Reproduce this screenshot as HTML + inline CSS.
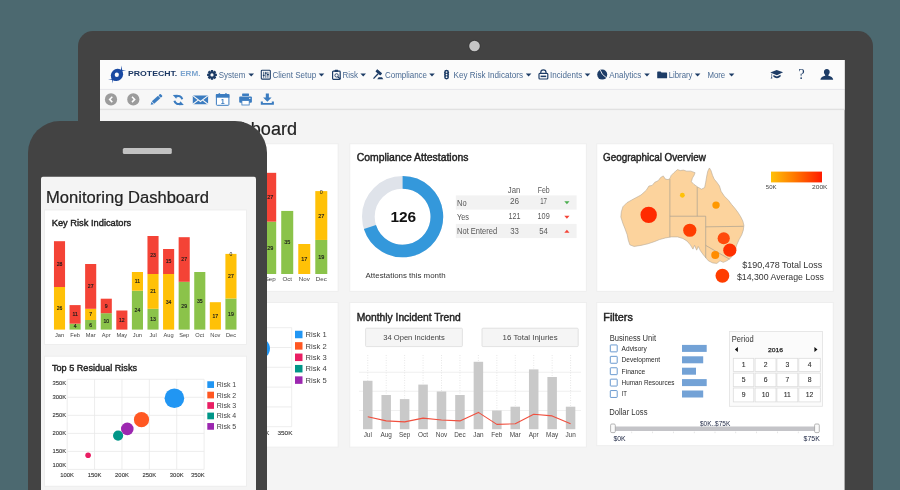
<!DOCTYPE html>
<html><head><meta charset="utf-8"><title>Monitoring Dashboard</title>
<style>html,body{margin:0;padding:0;width:900px;height:490px;overflow:hidden;background:#4c6970}svg{display:block;font-family:"Liberation Sans",sans-serif;will-change:transform}</style></head><body>
<svg width="900" height="490" viewBox="0 0 900 490">
<defs>
<clipPath id="tscr"><rect x="100" y="60" width="744.6" height="430"/></clipPath>
<clipPath id="pscr"><rect x="41" y="176.5" width="215" height="320" rx="2.5"/></clipPath>
<linearGradient id="heat" x1="0" x2="1" y1="0" y2="0"><stop offset="0" stop-color="#ffc107"/><stop offset="0.45" stop-color="#ff7a00"/><stop offset="1" stop-color="#ff1a00"/></linearGradient>
<path id="caret" d="M0 0h5.6l-2.8 3z" fill="#1d3c66"/>
</defs>
<rect x="0.00" y="0.00" width="900.00" height="490.00" fill="#4c6970" />
<rect x="78" y="31" width="795" height="500" rx="15" fill="#434343"/>
<circle cx="474.5" cy="46" r="6.2" fill="#3a3a3a"/><circle cx="474.5" cy="46" r="5.3" fill="#c4c4c4"/>
<g clip-path="url(#tscr)">
<rect x="100.00" y="60.00" width="745.00" height="430.00" fill="#f4f4f4" />
<rect x="100.00" y="60.00" width="745.00" height="29.00" fill="#fbfbfb" />
<rect x="100.00" y="88.90" width="745.00" height="1.00" fill="#e5e5e9" />
<rect x="100.00" y="89.90" width="745.00" height="19.00" fill="#f7f7f7" />
<rect x="100.00" y="108.70" width="745.00" height="1.40" fill="#e1e1e1" />
<g id="logo" fill="#1949a2">
<ellipse cx="117" cy="74.9" rx="6.6" ry="5.7" transform="rotate(-45 117 74.9)"/>
<path d="M120.7 71.8L121.6 65.6L122.4 71.8zM118.5 69.8L126.1 70.3L118.5 71.4zM111.600 77.400L112.400 83.500L113.300 77.400zM115.200 78.900L108 79.500L115.200 80.400z"/>
<ellipse cx="116.8" cy="74.8" rx="2.1" ry="2.25" fill="#fbfbfb"/>
</g>
<text x="128" y="75.7" font-size="6.6" fill="#1b3763" textLength="49.3" lengthAdjust="spacingAndGlyphs" font-weight="bold">PROTECHT.</text>
<text x="180.2" y="75.7" font-size="6.6" fill="#7ba4cf" textLength="20.3" lengthAdjust="spacingAndGlyphs" font-weight="bold">ERM.</text>
<text x="218.8" y="77.8" font-size="9" fill="#4b6b93" textLength="26.5" lengthAdjust="spacingAndGlyphs">System</text>
<use href="#caret" x="248.4" y="73.4"/>
<text x="272.5" y="77.8" font-size="9" fill="#4b6b93" textLength="43.7" lengthAdjust="spacingAndGlyphs">Client Setup</text>
<use href="#caret" x="318.7" y="73.4"/>
<text x="342.5" y="77.8" font-size="9" fill="#4b6b93" textLength="15.5" lengthAdjust="spacingAndGlyphs">Risk</text>
<use href="#caret" x="360.4" y="73.4"/>
<text x="385" y="77.8" font-size="9" fill="#4b6b93" textLength="42" lengthAdjust="spacingAndGlyphs">Compliance</text>
<use href="#caret" x="429.2" y="73.4"/>
<text x="453.6" y="77.8" font-size="9" fill="#4b6b93" textLength="69.4" lengthAdjust="spacingAndGlyphs">Key Risk Indicators</text>
<use href="#caret" x="525.8" y="73.4"/>
<text x="550" y="77.8" font-size="9" fill="#4b6b93" textLength="32.2" lengthAdjust="spacingAndGlyphs">Incidents</text>
<use href="#caret" x="584.7" y="73.4"/>
<text x="609.2" y="77.8" font-size="9" fill="#4b6b93" textLength="32.1" lengthAdjust="spacingAndGlyphs">Analytics</text>
<use href="#caret" x="644.2" y="73.4"/>
<text x="668.7" y="77.8" font-size="9" fill="#4b6b93" textLength="23.8" lengthAdjust="spacingAndGlyphs">Library</text>
<use href="#caret" x="694.8" y="73.4"/>
<text x="707.4" y="77.8" font-size="9" fill="#4b6b93" textLength="17.8" lengthAdjust="spacingAndGlyphs">More</text>
<use href="#caret" x="728.8" y="73.4"/>
<g fill="#1d3c66" transform="translate(212,74.9)">
<circle r="3.7"/>
<rect x="-1.15" y="-4.9" width="2.3" height="2.4" transform="rotate(0)"/>
<rect x="-1.15" y="-4.9" width="2.3" height="2.4" transform="rotate(45)"/>
<rect x="-1.15" y="-4.9" width="2.3" height="2.4" transform="rotate(90)"/>
<rect x="-1.15" y="-4.9" width="2.3" height="2.4" transform="rotate(135)"/>
<rect x="-1.15" y="-4.9" width="2.3" height="2.4" transform="rotate(180)"/>
<rect x="-1.15" y="-4.9" width="2.3" height="2.4" transform="rotate(225)"/>
<rect x="-1.15" y="-4.9" width="2.3" height="2.4" transform="rotate(270)"/>
<rect x="-1.15" y="-4.9" width="2.3" height="2.4" transform="rotate(315)"/>
<circle r="1.6" fill="#fbfbfb"/></g>
<g transform="translate(260.8,69.8)"><rect x="0.5" y="0.5" width="9" height="8.8" rx="0.8" fill="none" stroke="#1d3c66" stroke-width="1.1"/><path d="M2.9 2v6M5 2v6M7.1 2v6" stroke="#1d3c66" stroke-width="0.8"/><path d="M2 5.6h1.8M4.1 3.4h1.8M6.2 4.9h1.8" stroke="#1d3c66" stroke-width="1.3"/></g>
<g transform="translate(332,69.8)"><rect x="0.6" y="1.3" width="7.6" height="8.2" rx="0.8" fill="none" stroke="#1d3c66" stroke-width="1.2"/><rect x="2.6" y="0" width="3.6" height="2.2" rx="0.6" fill="#1d3c66"/><circle cx="4.6" cy="5.6" r="1.7" fill="none" stroke="#1d3c66" stroke-width="0.9"/><path d="M5.8 6.9l2.6 2.4" stroke="#1d3c66" stroke-width="1.2"/></g>
<g fill="#1d3c66"><rect x="375.6" y="70.9" width="6.4" height="2.9" rx="0.5" transform="rotate(40 378.8 72.35)"/><path d="M373.0 78.2L377.6 73.3l1.0 0.95L374.0 79.1z"/><path d="M378.6 77.2h3.4l1.3 2.1h-6z"/></g>
<g fill="#1d3c66"><circle cx="446.55" cy="72.2" r="2.45"/><circle cx="446.55" cy="74.6" r="2.45"/><circle cx="446.55" cy="77.0" r="2.45"/><circle cx="446.55" cy="72.0" r="0.85" fill="#fbfbfb"/><circle cx="446.55" cy="74.6" r="0.85" fill="#fbfbfb"/><circle cx="446.55" cy="77.2" r="0.85" fill="#fbfbfb"/></g>
<g transform="translate(538.4,69.6)"><path d="M2.4 4V2.6a2.5 2.3 0 0 1 5.2 0V4" fill="none" stroke="#1d3c66" stroke-width="1.2"/><rect x="0.6" y="3.8" width="8.8" height="5.6" rx="0.9" fill="#fbfbfb" stroke="#1d3c66" stroke-width="1.2"/><rect x="2.2" y="6" width="5.6" height="1.5" fill="#1d3c66"/></g>
<g transform="translate(602.2,74.6)"><circle r="5" fill="#1d3c66"/><path d="M0.2 -0.3L-1.9 -4.5M0.2 -0.3L4 2.9" stroke="#fbfbfb" stroke-width="0.9"/></g>
<path d="M657.2 72.3q0-0.7 0.7-0.7h2.7l0.9 1h4.9q0.7 0 0.7 0.7v4.4q0 0.6-0.7 0.6h-8.5q-0.7 0-0.7-0.6z" fill="#1d3c66"/>
<g fill="#1d3c66"><path d="M770.3 72.6l6.4-2.7 6.4 2.4-6.2 2.9z"/><path d="M773.4 74.9l3.5 1.5 3.7-1.7v1.9q-1.8 1.8-3.7 1.7-2-0.1-3.5-1.5z"/><path d="M771.5 73.6v3.4l-0.9 1.6 1.7-0.2-0.2-1.5v-3z"/></g>
<text x="798.2" y="79.3" font-size="14.5" fill="#1d3c66" font-family="Liberation Serif">?</text>
<path d="M826.8 69.1c2 0 2.9 1.4 2.9 3 0 1.200-0.5 2.200-1.300 2.800v0.900c2.300 0.700 4.700 1.500 4.800 3.900h-12.800c0.100-2.400 2.500-3.200 4.800-3.900v-0.900c-0.800-0.600-1.300-1.600-1.300-2.800 0-1.600 0.900-3 2.900-3z" fill="#1d3c66"/>
<g transform="translate(111,99.4)"><circle r="6.1" fill="#9c9c9c"/><path d="M1.3 -2.7L-1.4 0l2.7 2.700" fill="none" stroke="#fff" stroke-width="1.5"/></g>
<g transform="translate(133.3,99.4)"><circle r="6.1" fill="#9c9c9c"/><path d="M-1.3 -2.7L1.400 0l-2.700 2.700" fill="none" stroke="#fff" stroke-width="1.5"/></g>
<g transform="translate(156.2,99.7) rotate(-42)" fill="#3b7cc0"><path d="M-7.400 0l2.600-1.700v3.400z"/><rect x="-4.300" y="-1.700" width="8.300" height="3.400"/><rect x="4.600" y="-1.700" width="2.500" height="3.400" rx="0.800"/></g>
<g transform="translate(178.3,100) scale(-1,1)"><g fill="none" stroke="#3b7cc0" stroke-width="2.1"><path d="M-3.9 -0.8A4 4 0 0 1 2.3 -3.3"/><path d="M3.9 0.8A4 4 0 0 1 -2.3 3.3"/></g><g fill="#3b7cc0"><path d="M0.6 -5.3l4.9 0.2-3.4 3.8z"/><path d="M-0.6 5.3l-4.9-0.2 3.400-3.800z"/></g></g>
<g transform="translate(192.800,95.400)"><rect width="15.300" height="8.900" rx="0.800" fill="#3b7cc0"/><path d="M0.300 0.500l7.350 5.600 7.350-5.600M0.300 8.600l5.400-4.100M15 8.600l-5.400-4.100" fill="none" stroke="#f7f7f7" stroke-width="1.150"/></g>
<g transform="translate(215.900,93.200)"><rect x="0.500" y="1.400" width="12.500" height="10.700" rx="0.800" fill="#fff" stroke="#3b7cc0" stroke-width="1"/><rect x="0" y="0.900" width="13.500" height="3.600" fill="#3b7cc0"/><rect x="2.700" y="0" width="1.500" height="2.400" fill="#3b7cc0"/><rect x="9.300" y="0" width="1.500" height="2.400" fill="#3b7cc0"/></g>
<text x="222.7" y="104.0" font-size="7" fill="#3b7cc0" text-anchor="middle" font-weight="bold">1</text>
<g transform="translate(239.200,93.600)" fill="#3b7cc0"><rect x="2.900" y="0" width="6.900" height="2.300" rx="0.400"/><rect x="0" y="3" width="12.700" height="6.200" rx="1"/><rect x="2.700" y="7" width="7.300" height="4.400" fill="#fff" stroke="#3b7cc0" stroke-width="0.800"/><rect x="10" y="4.300" width="1.200" height="1.100" fill="#f7f7f7"/></g>
<g transform="translate(260.800,93.600)" fill="#3b7cc0"><path d="M5 0h3.100v4h2.700l-4.250 4.100L2.300 4H5z"/><path d="M0 7.800h2.100v1.700h8.900V7.800h2.100v3.300H0z"/></g>
<text x="119.3" y="134.55" font-size="17.6" fill="#222" textLength="177.7" lengthAdjust="spacingAndGlyphs" stroke="#222" stroke-width="0.2">Monitoring Dashboard</text>
<rect x="103.00" y="143.80" width="235.10" height="147.50" fill="#fff" stroke="#ececec" stroke-width="0.8"/>
<rect x="349.80" y="143.80" width="236.50" height="147.50" fill="#fff" stroke="#ececec" stroke-width="0.8"/>
<rect x="596.80" y="143.80" width="236.40" height="147.50" fill="#fff" stroke="#ececec" stroke-width="0.8"/>
<rect x="103.00" y="302.40" width="235.10" height="144.70" fill="#fff" stroke="#ececec" stroke-width="0.8"/>
<rect x="349.80" y="302.40" width="236.50" height="144.70" fill="#fff" stroke="#ececec" stroke-width="0.8"/>
<rect x="596.80" y="302.40" width="236.40" height="143.30" fill="#fff" stroke="#ececec" stroke-width="0.8"/>
<rect x="127.96" y="227.35" width="12.00" height="46.65" fill="#ffc107" />
<text x="133.96" y="252.66" font-size="5.5" fill="#1a1a1a" text-anchor="middle" stroke="#1a1a1a" stroke-width="0.15">26</text>
<rect x="127.96" y="177.20" width="12.00" height="50.15" fill="#f44336" />
<text x="133.96" y="204.26" font-size="5.5" fill="#1a1a1a" text-anchor="middle" stroke="#1a1a1a" stroke-width="0.15">28</text>
<text x="133.96" y="281.0" font-size="6.2" fill="#444" text-anchor="middle">Jan</text>
<rect x="144.99" y="267.54" width="12.00" height="6.46" fill="#8bc34a" />
<text x="150.99" y="272.75" font-size="5.5" fill="#1a1a1a" text-anchor="middle" stroke="#1a1a1a" stroke-width="0.15">4</text>
<rect x="144.99" y="247.17" width="12.00" height="20.37" fill="#f44336" />
<text x="150.99" y="259.34" font-size="5.5" fill="#1a1a1a" text-anchor="middle" stroke="#1a1a1a" stroke-width="0.15">11</text>
<text x="150.99" y="281.0" font-size="6.2" fill="#444" text-anchor="middle">Feb</text>
<rect x="162.02" y="263.49" width="12.00" height="10.51" fill="#8bc34a" />
<text x="168.02" y="270.72" font-size="5.5" fill="#1a1a1a" text-anchor="middle" stroke="#1a1a1a" stroke-width="0.15">6</text>
<rect x="162.02" y="251.22" width="12.00" height="12.26" fill="#ffc107" />
<text x="168.02" y="259.34" font-size="5.5" fill="#1a1a1a" text-anchor="middle" stroke="#1a1a1a" stroke-width="0.15">7</text>
<rect x="162.02" y="202.17" width="12.00" height="49.06" fill="#f44336" />
<text x="168.02" y="228.68" font-size="5.5" fill="#1a1a1a" text-anchor="middle" stroke="#1a1a1a" stroke-width="0.15">27</text>
<text x="168.02" y="281.0" font-size="6.2" fill="#444" text-anchor="middle">Mar</text>
<rect x="179.05" y="256.04" width="12.00" height="17.96" fill="#8bc34a" />
<text x="185.05" y="267.00" font-size="5.5" fill="#1a1a1a" text-anchor="middle" stroke="#1a1a1a" stroke-width="0.15">10</text>
<rect x="179.05" y="240.16" width="12.00" height="15.88" fill="#f44336" />
<text x="185.05" y="250.08" font-size="5.5" fill="#1a1a1a" text-anchor="middle" stroke="#1a1a1a" stroke-width="0.15">9</text>
<text x="185.05" y="281.0" font-size="6.2" fill="#444" text-anchor="middle">Apr</text>
<rect x="196.08" y="253.09" width="12.00" height="20.91" fill="#f44336" />
<text x="202.08" y="265.52" font-size="5.5" fill="#1a1a1a" text-anchor="middle" stroke="#1a1a1a" stroke-width="0.15">12</text>
<text x="202.08" y="281.0" font-size="6.2" fill="#444" text-anchor="middle">May</text>
<rect x="213.11" y="231.40" width="12.00" height="42.60" fill="#8bc34a" />
<text x="219.11" y="254.68" font-size="5.5" fill="#1a1a1a" text-anchor="middle" stroke="#1a1a1a" stroke-width="0.15">24</text>
<rect x="213.11" y="210.93" width="12.00" height="20.48" fill="#ffc107" />
<text x="219.11" y="223.15" font-size="5.5" fill="#1a1a1a" text-anchor="middle" stroke="#1a1a1a" stroke-width="0.15">11</text>
<text x="219.11" y="281.0" font-size="6.2" fill="#444" text-anchor="middle">Jun</text>
<rect x="230.14" y="251.22" width="12.00" height="22.78" fill="#8bc34a" />
<text x="236.14" y="264.59" font-size="5.5" fill="#1a1a1a" text-anchor="middle" stroke="#1a1a1a" stroke-width="0.15">13</text>
<rect x="230.14" y="213.12" width="12.00" height="38.11" fill="#ffc107" />
<text x="236.14" y="234.15" font-size="5.5" fill="#1a1a1a" text-anchor="middle" stroke="#1a1a1a" stroke-width="0.15">21</text>
<rect x="230.14" y="171.51" width="12.00" height="41.61" fill="#f44336" />
<text x="236.14" y="194.29" font-size="5.5" fill="#1a1a1a" text-anchor="middle" stroke="#1a1a1a" stroke-width="0.15">23</text>
<text x="236.14" y="281.0" font-size="6.2" fill="#444" text-anchor="middle">Jul</text>
<rect x="247.17" y="213.12" width="12.00" height="60.88" fill="#ffc107" />
<text x="253.17" y="245.54" font-size="5.5" fill="#1a1a1a" text-anchor="middle" stroke="#1a1a1a" stroke-width="0.15">34</text>
<rect x="247.17" y="185.74" width="12.00" height="27.38" fill="#f44336" />
<text x="253.17" y="201.41" font-size="5.5" fill="#1a1a1a" text-anchor="middle" stroke="#1a1a1a" stroke-width="0.15">15</text>
<text x="253.17" y="281.0" font-size="6.2" fill="#444" text-anchor="middle">Aug</text>
<rect x="264.20" y="221.66" width="12.00" height="52.34" fill="#8bc34a" />
<text x="270.20" y="249.81" font-size="5.5" fill="#1a1a1a" text-anchor="middle" stroke="#1a1a1a" stroke-width="0.15">29</text>
<rect x="264.20" y="172.82" width="12.00" height="48.84" fill="#f44336" />
<text x="270.20" y="199.22" font-size="5.5" fill="#1a1a1a" text-anchor="middle" stroke="#1a1a1a" stroke-width="0.15">27</text>
<text x="270.20" y="281.0" font-size="6.2" fill="#444" text-anchor="middle">Sep</text>
<rect x="281.23" y="210.93" width="12.00" height="63.07" fill="#8bc34a" />
<text x="287.23" y="244.44" font-size="5.5" fill="#1a1a1a" text-anchor="middle" stroke="#1a1a1a" stroke-width="0.15">35</text>
<text x="287.23" y="281.0" font-size="6.2" fill="#444" text-anchor="middle">Oct</text>
<rect x="298.26" y="244.00" width="12.00" height="30.00" fill="#ffc107" />
<text x="304.26" y="260.98" font-size="5.5" fill="#1a1a1a" text-anchor="middle" stroke="#1a1a1a" stroke-width="0.15">17</text>
<text x="304.26" y="281.0" font-size="6.2" fill="#444" text-anchor="middle">Nov</text>
<rect x="315.29" y="239.95" width="12.00" height="34.05" fill="#8bc34a" />
<text x="321.29" y="258.95" font-size="5.5" fill="#1a1a1a" text-anchor="middle" stroke="#1a1a1a" stroke-width="0.15">19</text>
<rect x="315.29" y="191.11" width="12.00" height="48.84" fill="#ffc107" />
<text x="321.29" y="217.51" font-size="5.5" fill="#1a1a1a" text-anchor="middle" stroke="#1a1a1a" stroke-width="0.15">27</text>
<text x="321.29" y="193.51" font-size="5.5" fill="#222" text-anchor="middle">0</text>
<text x="321.29" y="281.0" font-size="6.2" fill="#444" text-anchor="middle">Dec</text>
<text x="110" y="161.2" font-size="9.6" fill="#222" textLength="79.6" lengthAdjust="spacingAndGlyphs" stroke="#222" stroke-width="0.42">Key Risk Indicators</text>
<path d="M142.20 327.70V426.70M142.20 327.70H291.70" stroke="#e9e9e9" stroke-width="0.8" fill="none"/>
<path d="M172.10 327.70V426.70M142.20 347.50H291.70" stroke="#e9e9e9" stroke-width="0.8" fill="none"/>
<path d="M202.00 327.70V426.70M142.20 367.30H291.70" stroke="#e9e9e9" stroke-width="0.8" fill="none"/>
<path d="M231.90 327.70V426.70M142.20 387.10H291.70" stroke="#e9e9e9" stroke-width="0.8" fill="none"/>
<path d="M261.80 327.70V426.70M142.20 406.90H291.70" stroke="#e9e9e9" stroke-width="0.8" fill="none"/>
<path d="M291.70 327.70V426.70M142.20 426.70H291.70" stroke="#e9e9e9" stroke-width="0.8" fill="none"/>
<text x="125.20" y="334.11" font-size="6.2" fill="#333" textLength="15.0" lengthAdjust="spacingAndGlyphs" stroke="#333" stroke-width="0.1">350K</text>
<text x="125.20" y="349.73" font-size="6.2" fill="#333" textLength="15.0" lengthAdjust="spacingAndGlyphs" stroke="#333" stroke-width="0.1">300K</text>
<text x="125.20" y="369.53" font-size="6.2" fill="#333" textLength="15.0" lengthAdjust="spacingAndGlyphs" stroke="#333" stroke-width="0.1">250K</text>
<text x="125.20" y="389.33" font-size="6.2" fill="#333" textLength="15.0" lengthAdjust="spacingAndGlyphs" stroke="#333" stroke-width="0.1">200K</text>
<text x="125.20" y="409.13" font-size="6.2" fill="#333" textLength="15.0" lengthAdjust="spacingAndGlyphs" stroke="#333" stroke-width="0.1">150K</text>
<text x="125.20" y="424.53" font-size="6.2" fill="#333" textLength="15.0" lengthAdjust="spacingAndGlyphs" stroke="#333" stroke-width="0.1">100K</text>
<text x="134.70" y="434.80" font-size="6.2" fill="#333" textLength="15.0" lengthAdjust="spacingAndGlyphs" stroke="#333" stroke-width="0.1">100K</text>
<text x="164.60" y="434.80" font-size="6.2" fill="#333" textLength="15.0" lengthAdjust="spacingAndGlyphs" stroke="#333" stroke-width="0.1">150K</text>
<text x="194.50" y="434.80" font-size="6.2" fill="#333" textLength="15.0" lengthAdjust="spacingAndGlyphs" stroke="#333" stroke-width="0.1">200K</text>
<text x="224.40" y="434.80" font-size="6.2" fill="#333" textLength="15.0" lengthAdjust="spacingAndGlyphs" stroke="#333" stroke-width="0.1">250K</text>
<text x="254.30" y="434.80" font-size="6.2" fill="#333" textLength="15.0" lengthAdjust="spacingAndGlyphs" stroke="#333" stroke-width="0.1">300K</text>
<text x="277.47" y="434.80" font-size="6.2" fill="#333" textLength="15.0" lengthAdjust="spacingAndGlyphs" stroke="#333" stroke-width="0.1">350K</text>
<circle cx="259.27" cy="348.47" r="10.68" fill="#2196f3"/>
<circle cx="223.34" cy="372.09" r="8.28" fill="#ff5722"/>
<circle cx="207.83" cy="382.20" r="6.87" fill="#9c27b0"/>
<circle cx="197.78" cy="389.56" r="5.56" fill="#009688"/>
<circle cx="165.02" cy="411.10" r="3.05" fill="#e91e63"/>
<rect x="295.00" y="330.75" width="7.50" height="7.50" fill="#2196f3" />
<text x="305.60" y="337.24" font-size="7.6" fill="#444">Risk 1</text>
<rect x="295.00" y="342.15" width="7.50" height="7.50" fill="#ff5722" />
<text x="305.60" y="348.64" font-size="7.6" fill="#444">Risk 2</text>
<rect x="295.00" y="353.55" width="7.50" height="7.50" fill="#e91e63" />
<text x="305.60" y="360.04" font-size="7.6" fill="#444">Risk 3</text>
<rect x="295.00" y="364.95" width="7.50" height="7.50" fill="#009688" />
<text x="305.60" y="371.44" font-size="7.6" fill="#444">Risk 4</text>
<rect x="295.00" y="376.35" width="7.50" height="7.50" fill="#9c27b0" />
<text x="305.60" y="382.84" font-size="7.6" fill="#444">Risk 5</text>
<text x="110" y="320.7" font-size="9.6" fill="#222" textLength="85" lengthAdjust="spacingAndGlyphs" stroke="#222" stroke-width="0.42">Top 5 Residual Risks</text>
<text x="356.7" y="161.2" font-size="10.2" fill="#222" textLength="111.8" lengthAdjust="spacingAndGlyphs" stroke="#222" stroke-width="0.42">Compliance Attestations</text>
<circle cx="402.6" cy="216.7" r="34.25" fill="none" stroke="#dfe3ea" stroke-width="12.70"/>
<path d="M402.6 182.45A34.25 34.25 0 1 1 369.94 227.00" fill="none" stroke="#3498db" stroke-width="12.70"/>
<text x="403.3" y="222.4" font-size="15.4" fill="#111" text-anchor="middle" textLength="25.8" lengthAdjust="spacingAndGlyphs" font-weight="bold">126</text>
<text x="365.6" y="277.6" font-size="7.7" fill="#333" textLength="80" lengthAdjust="spacingAndGlyphs">Attestations this month</text>
<rect x="455.80" y="195.40" width="120.80" height="14.20" fill="#f2f2f2" />
<rect x="455.80" y="223.90" width="120.80" height="14.20" fill="#f2f2f2" />
<text x="514.1" y="192.8" font-size="8.2" fill="#5a5a5a" text-anchor="middle" textLength="12.6" lengthAdjust="spacingAndGlyphs">Jan</text>
<text x="543.7" y="192.8" font-size="8.2" fill="#5a5a5a" text-anchor="middle" textLength="12" lengthAdjust="spacingAndGlyphs">Feb</text>
<text x="457.0" y="205.5" font-size="8.2" fill="#555" textLength="9.6" lengthAdjust="spacingAndGlyphs">No</text>
<text x="514.6" y="204.0" font-size="8.3" fill="#5a5a5a" text-anchor="middle" textLength="9.2" lengthAdjust="spacingAndGlyphs">26</text>
<text x="543.6" y="204.0" font-size="8.3" fill="#5a5a5a" text-anchor="middle" textLength="6.8" lengthAdjust="spacingAndGlyphs">17</text>
<text x="457.0" y="219.75" font-size="8.2" fill="#555" textLength="12" lengthAdjust="spacingAndGlyphs">Yes</text>
<text x="514.6" y="218.7" font-size="8.3" fill="#5a5a5a" text-anchor="middle" textLength="12" lengthAdjust="spacingAndGlyphs">121</text>
<text x="543.6" y="218.7" font-size="8.3" fill="#5a5a5a" text-anchor="middle" textLength="12.2" lengthAdjust="spacingAndGlyphs">109</text>
<text x="457.0" y="234.4" font-size="8.2" fill="#555" textLength="40.2" lengthAdjust="spacingAndGlyphs">Not Entered</text>
<text x="514.6" y="233.5" font-size="8.3" fill="#5a5a5a" text-anchor="middle" textLength="8.7" lengthAdjust="spacingAndGlyphs">33</text>
<text x="543.6" y="233.5" font-size="8.3" fill="#5a5a5a" text-anchor="middle" textLength="8.6" lengthAdjust="spacingAndGlyphs">54</text>
<path d="M564.3 201.3h5.200l-2.600 3z" fill="#4caf50"/>
<path d="M564.3 215.700h5.200l-2.600 3z" fill="#f44336"/>
<path d="M564.3 232.800h5.200l-2.600-3z" fill="#f44336"/>
<text x="603.1" y="161.2" font-size="10.2" fill="#222" textLength="102.7" lengthAdjust="spacingAndGlyphs" stroke="#222" stroke-width="0.42">Geographical Overview</text>
<path d="M620.83 217.01L621.36 211.71L622.96 206.67L626.93 202.69L633.03 199.25L640.99 195.00L646.29 190.23L648.94 185.99L652.13 185.46L654.78 182.28L658.22 180.68L660.61 177.50L663.26 175.91L665.38 179.09L668.04 179.62L669.89 178.56L671.22 175.38L673.87 172.73L677.58 169.55L680.23 170.61L683.42 170.08L686.60 171.14L690.84 171.14L695.08 172.73L694.02 175.38L692.43 178.03L691.37 181.74L694.02 184.40L697.74 187.05L701.45 189.17L704.63 187.58L705.69 182.28L706.75 175.91L707.81 171.14L709.40 167.96L711.00 170.61L712.59 175.38L714.18 179.09L716.83 182.28L719.48 185.99L721.07 191.29L724.25 196.06L728.50 200.31L731.68 204.55L734.86 208.26L738.04 212.51L740.70 216.75L742.82 220.99L743.88 225.23L743.35 230.01L741.76 234.78L739.11 239.55L736.98 244.33L735.39 249.10L733.27 253.87L730.62 258.12L726.91 260.77L723.19 262.36L720.01 260.77L716.83 263.42L712.59 262.89L708.34 260.77L705.69 257.59L703.04 254.40L700.39 250.69L698.27 246.45L696.68 250.16L694.55 245.39L692.96 249.10L690.31 244.86L687.13 241.15L682.89 238.49L677.58 236.90L671.22 236.90L665.38 237.96L659.55 239.55L654.25 241.68L647.88 243.80L640.99 245.39L634.09 246.45L629.85 244.86L628.26 240.08L627.20 234.78L625.08 228.95L622.96 223.64z" fill="#fcd39d" stroke="#b5aa98" stroke-width="0.6" stroke-linejoin="round"/>
<path d="M669.89 179.09L669.89 237.17M697.21 187.05L697.21 216.22M669.89 216.22L705.69 216.22M705.69 216.22L705.69 258.12M705.69 226.83L743.61 226.30M705.69 245.39L729.56 259.18" fill="none" stroke="#a9a091" stroke-width="0.7"/>
<circle cx="648.68" cy="214.89" r="8.2" fill="#ff2a00"/>
<circle cx="682.36" cy="195.27" r="2.4" fill="#ffc107"/>
<circle cx="716.03" cy="205.08" r="3.7" fill="#ff9800"/>
<circle cx="689.78" cy="230.27" r="6.6" fill="#ff3d00"/>
<circle cx="723.72" cy="238.23" r="6.1" fill="#ff4a0c"/>
<circle cx="715.24" cy="254.94" r="4" fill="#ff8c00"/>
<circle cx="729.82" cy="250.16" r="6.6" fill="#ff3000"/>
<circle cx="722.40" cy="275.75" r="6.9" fill="#ff3d00"/>
<rect x="771.00" y="171.60" width="51.00" height="10.80" fill="url(#heat)" />
<text x="765.8" y="189" font-size="6.2" fill="#444" textLength="10.7" lengthAdjust="spacingAndGlyphs">50K</text>
<text x="812" y="189" font-size="6.2" fill="#444" textLength="15.5" lengthAdjust="spacingAndGlyphs">200K</text>
<text x="742.3" y="267.6" font-size="9.8" fill="#333" textLength="80" lengthAdjust="spacingAndGlyphs">$190,478 Total Loss</text>
<text x="736.9" y="280.2" font-size="9.8" fill="#333" textLength="87" lengthAdjust="spacingAndGlyphs">$14,300 Average Loss</text>
<text x="356.7" y="320.7" font-size="10.2" fill="#222" textLength="104" lengthAdjust="spacingAndGlyphs" stroke="#222" stroke-width="0.42">Monthly Incident Trend</text>
<rect x="365.60" y="328.20" width="96.80" height="18.40" fill="#f5f5f5" stroke="#dcdcdc" stroke-width="0.8" rx="1"/>
<rect x="482.00" y="328.20" width="96.20" height="18.40" fill="#f5f5f5" stroke="#dcdcdc" stroke-width="0.8" rx="1"/>
<text x="414" y="340.3" font-size="7.6" fill="#444" text-anchor="middle" textLength="61.5" lengthAdjust="spacingAndGlyphs">34 Open Incidents</text>
<text x="530.1" y="340.3" font-size="7.6" fill="#444" text-anchor="middle" textLength="55" lengthAdjust="spacingAndGlyphs">16 Total Injuries</text>
<rect x="359.00" y="371.80" width="222.00" height="0.80" fill="#ececec" />
<rect x="359.00" y="390.80" width="222.00" height="0.80" fill="#ececec" />
<rect x="359.00" y="410.10" width="222.00" height="0.80" fill="#ececec" />
<path d="M367.75 355V380.80" stroke="#dddddd" stroke-width="0.7" stroke-dasharray="1 1.500"/>
<rect x="363.00" y="380.80" width="9.50" height="48.40" fill="#c9c9c9" />
<text x="367.75" y="436.6" font-size="6.4" fill="#444" text-anchor="middle">Jul</text>
<path d="M386.19 355V395.00" stroke="#dddddd" stroke-width="0.7" stroke-dasharray="1 1.500"/>
<rect x="381.44" y="395.00" width="9.50" height="34.20" fill="#c9c9c9" />
<text x="386.19" y="436.6" font-size="6.4" fill="#444" text-anchor="middle">Aug</text>
<path d="M404.63 355V399.10" stroke="#dddddd" stroke-width="0.7" stroke-dasharray="1 1.500"/>
<rect x="399.88" y="399.10" width="9.50" height="30.10" fill="#c9c9c9" />
<text x="404.63" y="436.6" font-size="6.4" fill="#444" text-anchor="middle">Sep</text>
<path d="M423.07 355V384.60" stroke="#dddddd" stroke-width="0.7" stroke-dasharray="1 1.500"/>
<rect x="418.32" y="384.60" width="9.50" height="44.60" fill="#c9c9c9" />
<text x="423.07" y="436.6" font-size="6.4" fill="#444" text-anchor="middle">Oct</text>
<path d="M441.51 355V391.50" stroke="#dddddd" stroke-width="0.7" stroke-dasharray="1 1.500"/>
<rect x="436.76" y="391.50" width="9.50" height="37.70" fill="#c9c9c9" />
<text x="441.51" y="436.6" font-size="6.4" fill="#444" text-anchor="middle">Nov</text>
<path d="M459.95 355V395.00" stroke="#dddddd" stroke-width="0.7" stroke-dasharray="1 1.500"/>
<rect x="455.20" y="395.00" width="9.50" height="34.20" fill="#c9c9c9" />
<text x="459.95" y="436.6" font-size="6.4" fill="#444" text-anchor="middle">Dec</text>
<path d="M478.39 355V361.80" stroke="#dddddd" stroke-width="0.7" stroke-dasharray="1 1.500"/>
<rect x="473.64" y="361.80" width="9.50" height="67.40" fill="#c9c9c9" />
<text x="478.39" y="436.6" font-size="6.4" fill="#444" text-anchor="middle">Jan</text>
<path d="M496.83 355V410.50" stroke="#dddddd" stroke-width="0.7" stroke-dasharray="1 1.500"/>
<rect x="492.08" y="410.50" width="9.50" height="18.70" fill="#c9c9c9" />
<text x="496.83" y="436.6" font-size="6.4" fill="#444" text-anchor="middle">Feb</text>
<path d="M515.27 355V406.70" stroke="#dddddd" stroke-width="0.7" stroke-dasharray="1 1.500"/>
<rect x="510.52" y="406.70" width="9.50" height="22.50" fill="#c9c9c9" />
<text x="515.27" y="436.6" font-size="6.4" fill="#444" text-anchor="middle">Mar</text>
<path d="M533.71 355V369.40" stroke="#dddddd" stroke-width="0.7" stroke-dasharray="1 1.500"/>
<rect x="528.96" y="369.40" width="9.50" height="59.80" fill="#c9c9c9" />
<text x="533.71" y="436.6" font-size="6.4" fill="#444" text-anchor="middle">Apr</text>
<path d="M552.15 355V377.00" stroke="#dddddd" stroke-width="0.7" stroke-dasharray="1 1.500"/>
<rect x="547.40" y="377.00" width="9.50" height="52.20" fill="#c9c9c9" />
<text x="552.15" y="436.6" font-size="6.4" fill="#444" text-anchor="middle">May</text>
<path d="M570.59 355V406.70" stroke="#dddddd" stroke-width="0.7" stroke-dasharray="1 1.500"/>
<rect x="565.84" y="406.70" width="9.50" height="22.50" fill="#c9c9c9" />
<text x="570.59" y="436.6" font-size="6.4" fill="#444" text-anchor="middle">Jun</text>
<path d="M367.75 416.8L386.19 420.9L404.63 421.9L423.07 418.1L441.51 420L459.95 420.9L478.39 412.4L496.83 424.4L515.27 423.8L533.71 414.3L552.15 415.9L570.59 423.8" fill="none" stroke="#f0503f" stroke-width="1.1" stroke-linejoin="round"/>
<text x="603.3" y="320.7" font-size="10.2" fill="#222" textLength="29.5" lengthAdjust="spacingAndGlyphs" stroke="#222" stroke-width="0.42">Filters</text>
<text x="609.7" y="341.0" font-size="8.5" fill="#333" textLength="46.4" lengthAdjust="spacingAndGlyphs">Business Unit</text>
<rect x="610.30" y="344.95" width="6.90" height="6.90" fill="#fff" stroke="#5a8fcb" stroke-width="0.9" rx="0.5"/>
<text x="621.6" y="350.75" font-size="6.6" fill="#2a2a2a" textLength="25.2" lengthAdjust="spacingAndGlyphs">Advisory</text>
<rect x="682.00" y="344.90" width="24.70" height="7.00" fill="#73a2d6" />
<rect x="610.30" y="356.35" width="6.90" height="6.90" fill="#fff" stroke="#5a8fcb" stroke-width="0.9" rx="0.5"/>
<text x="621.6" y="362.15" font-size="6.6" fill="#2a2a2a" textLength="38.6" lengthAdjust="spacingAndGlyphs">Development</text>
<rect x="682.00" y="356.30" width="21.20" height="7.00" fill="#73a2d6" />
<rect x="610.30" y="367.75" width="6.90" height="6.90" fill="#fff" stroke="#5a8fcb" stroke-width="0.9" rx="0.5"/>
<text x="621.6" y="373.55" font-size="6.6" fill="#2a2a2a" textLength="23.7" lengthAdjust="spacingAndGlyphs">Finance</text>
<rect x="682.00" y="367.70" width="14.00" height="7.00" fill="#73a2d6" />
<rect x="610.30" y="379.15" width="6.90" height="6.90" fill="#fff" stroke="#5a8fcb" stroke-width="0.9" rx="0.5"/>
<text x="621.6" y="384.95" font-size="6.6" fill="#2a2a2a" textLength="52.8" lengthAdjust="spacingAndGlyphs">Human Resources</text>
<rect x="682.00" y="379.10" width="24.70" height="7.00" fill="#73a2d6" />
<rect x="610.30" y="390.55" width="6.90" height="6.90" fill="#fff" stroke="#5a8fcb" stroke-width="0.9" rx="0.5"/>
<text x="621.6" y="396.35" font-size="6.6" fill="#2a2a2a" textLength="5.4" lengthAdjust="spacingAndGlyphs">IT</text>
<rect x="682.00" y="390.50" width="21.20" height="7.00" fill="#73a2d6" />
<rect x="729.50" y="331.40" width="92.90" height="74.90" fill="#fbfbfb" stroke="#e2e2e2" stroke-width="0.8"/>
<text x="731.8" y="341.8" font-size="8.5" fill="#333" textLength="21.8" lengthAdjust="spacingAndGlyphs">Period</text>
<path d="M737.900 347.100v4.800l-3.100-2.400zM814.400 347.100v4.800l3.100-2.400z" fill="#111"/>
<text x="775.6" y="351.6" font-size="6.2" fill="#222" text-anchor="middle" textLength="15" lengthAdjust="spacingAndGlyphs" stroke="#222" stroke-width="0.25">2016</text>
<rect x="733.30" y="358.30" width="20.50" height="13.20" fill="#fff" stroke="#dcdcdc" stroke-width="0.8"/>
<text x="743.55" y="366.80" font-size="6.8" fill="#333" text-anchor="middle" stroke="#333" stroke-width="0.12">1</text>
<rect x="755.10" y="358.30" width="20.90" height="13.20" fill="#fff" stroke="#dcdcdc" stroke-width="0.8"/>
<text x="765.55" y="366.80" font-size="6.8" fill="#333" text-anchor="middle" stroke="#333" stroke-width="0.12">2</text>
<rect x="776.90" y="358.30" width="20.90" height="13.20" fill="#fff" stroke="#dcdcdc" stroke-width="0.8"/>
<text x="787.35" y="366.80" font-size="6.8" fill="#333" text-anchor="middle" stroke="#333" stroke-width="0.12">3</text>
<rect x="798.80" y="358.30" width="21.50" height="13.20" fill="#fff" stroke="#dcdcdc" stroke-width="0.8"/>
<text x="809.55" y="366.80" font-size="6.8" fill="#333" text-anchor="middle" stroke="#333" stroke-width="0.12">4</text>
<rect x="733.30" y="373.10" width="20.50" height="13.60" fill="#fff" stroke="#dcdcdc" stroke-width="0.8"/>
<text x="743.55" y="381.80" font-size="6.8" fill="#333" text-anchor="middle" stroke="#333" stroke-width="0.12">5</text>
<rect x="755.10" y="373.10" width="20.90" height="13.60" fill="#fff" stroke="#dcdcdc" stroke-width="0.8"/>
<text x="765.55" y="381.80" font-size="6.8" fill="#333" text-anchor="middle" stroke="#333" stroke-width="0.12">6</text>
<rect x="776.90" y="373.10" width="20.90" height="13.60" fill="#fff" stroke="#dcdcdc" stroke-width="0.8"/>
<text x="787.35" y="381.80" font-size="6.8" fill="#333" text-anchor="middle" stroke="#333" stroke-width="0.12">7</text>
<rect x="798.80" y="373.10" width="21.50" height="13.60" fill="#fff" stroke="#dcdcdc" stroke-width="0.8"/>
<text x="809.55" y="381.80" font-size="6.8" fill="#333" text-anchor="middle" stroke="#333" stroke-width="0.12">8</text>
<rect x="733.30" y="388.00" width="20.50" height="13.90" fill="#fff" stroke="#dcdcdc" stroke-width="0.8"/>
<text x="743.55" y="396.85" font-size="6.8" fill="#333" text-anchor="middle" stroke="#333" stroke-width="0.12">9</text>
<rect x="755.10" y="388.00" width="20.90" height="13.90" fill="#fff" stroke="#dcdcdc" stroke-width="0.8"/>
<text x="765.55" y="396.85" font-size="6.8" fill="#333" text-anchor="middle" stroke="#333" stroke-width="0.12">10</text>
<rect x="776.90" y="388.00" width="20.90" height="13.90" fill="#fff" stroke="#dcdcdc" stroke-width="0.8"/>
<text x="787.35" y="396.85" font-size="6.8" fill="#333" text-anchor="middle" stroke="#333" stroke-width="0.12">11</text>
<rect x="798.80" y="388.00" width="21.50" height="13.90" fill="#fff" stroke="#dcdcdc" stroke-width="0.8"/>
<text x="809.55" y="396.85" font-size="6.8" fill="#333" text-anchor="middle" stroke="#333" stroke-width="0.12">12</text>
<text x="609.2" y="415.0" font-size="8.5" fill="#333" textLength="38.3" lengthAdjust="spacingAndGlyphs">Dollar Loss</text>
<rect x="611.00" y="426.40" width="208.00" height="4.60" fill="#c4c4c8" rx="1"/>
<rect x="631.50" y="431.60" width="0.60" height="1.60" fill="#d5d5d5" />
<rect x="652.30" y="431.60" width="0.60" height="1.60" fill="#d5d5d5" />
<rect x="673.10" y="431.60" width="0.60" height="1.60" fill="#d5d5d5" />
<rect x="693.90" y="431.60" width="0.60" height="1.60" fill="#d5d5d5" />
<rect x="714.70" y="431.60" width="0.60" height="1.60" fill="#d5d5d5" />
<rect x="735.50" y="431.60" width="0.60" height="1.60" fill="#d5d5d5" />
<rect x="756.30" y="431.60" width="0.60" height="1.60" fill="#d5d5d5" />
<rect x="777.10" y="431.60" width="0.60" height="1.60" fill="#d5d5d5" />
<rect x="797.90" y="431.60" width="0.60" height="1.60" fill="#d5d5d5" />
<rect x="610.60" y="424.00" width="4.70" height="8.60" fill="#fafafa" stroke="#999" stroke-width="0.7" rx="1.2"/>
<rect x="814.60" y="424.00" width="4.70" height="8.60" fill="#fafafa" stroke="#999" stroke-width="0.7" rx="1.2"/>
<text x="715.1" y="425.7" font-size="6.5" fill="#1a2340" text-anchor="middle" textLength="30.2" lengthAdjust="spacingAndGlyphs">$0K..$75K</text>
<text x="613.4" y="440.6" font-size="6.5" fill="#1a2340" textLength="12.2" lengthAdjust="spacingAndGlyphs">$0K</text>
<text x="803.6" y="440.6" font-size="6.5" fill="#1a2340" textLength="16.2" lengthAdjust="spacingAndGlyphs">$75K</text>
</g>
<rect x="28" y="121" width="239" height="420" rx="32" fill="#434343"/>
<rect x="122.80" y="148.00" width="49.00" height="6.00" fill="#c2c2c2" rx="1.500"/>
<g clip-path="url(#pscr)">
<rect x="41.00" y="176.50" width="215.00" height="320.00" fill="#f4f4f4" />
<text x="46.0" y="202.5" font-size="16.0" fill="#222" textLength="163" lengthAdjust="spacingAndGlyphs" stroke="#222" stroke-width="0.2">Monitoring Dashboard</text>
<rect x="44.40" y="210.00" width="202.00" height="134.50" fill="#fff" stroke="#ececec" stroke-width="0.8"/>
<rect x="44.40" y="356.20" width="202.00" height="130.00" fill="#fff" stroke="#ececec" stroke-width="0.8"/>
<text x="51.7" y="226.3" font-size="9.9" fill="#222" textLength="79.6" lengthAdjust="spacingAndGlyphs" stroke="#222" stroke-width="0.42">Key Risk Indicators</text>
<rect x="53.96" y="287.00" width="11.10" height="42.60" fill="#ffc107" />
<text x="59.51" y="310.14" font-size="5.1" fill="#1a1a1a" text-anchor="middle" stroke="#1a1a1a" stroke-width="0.15">26</text>
<rect x="53.96" y="241.20" width="11.10" height="45.80" fill="#f44336" />
<text x="59.51" y="265.94" font-size="5.1" fill="#1a1a1a" text-anchor="middle" stroke="#1a1a1a" stroke-width="0.15">28</text>
<text x="59.51" y="336.5" font-size="5.7" fill="#444" text-anchor="middle">Jan</text>
<rect x="69.55" y="323.70" width="11.10" height="5.90" fill="#8bc34a" />
<text x="75.09" y="328.49" font-size="5.1" fill="#1a1a1a" text-anchor="middle" stroke="#1a1a1a" stroke-width="0.15">4</text>
<rect x="69.55" y="305.10" width="11.10" height="18.60" fill="#f44336" />
<text x="75.09" y="316.24" font-size="5.1" fill="#1a1a1a" text-anchor="middle" stroke="#1a1a1a" stroke-width="0.15">11</text>
<text x="75.09" y="336.5" font-size="5.7" fill="#444" text-anchor="middle">Feb</text>
<rect x="85.13" y="320.00" width="11.10" height="9.60" fill="#8bc34a" />
<text x="90.68" y="326.64" font-size="5.1" fill="#1a1a1a" text-anchor="middle" stroke="#1a1a1a" stroke-width="0.15">6</text>
<rect x="85.13" y="308.80" width="11.10" height="11.20" fill="#ffc107" />
<text x="90.68" y="316.24" font-size="5.1" fill="#1a1a1a" text-anchor="middle" stroke="#1a1a1a" stroke-width="0.15">7</text>
<rect x="85.13" y="264.00" width="11.10" height="44.80" fill="#f44336" />
<text x="90.68" y="288.24" font-size="5.1" fill="#1a1a1a" text-anchor="middle" stroke="#1a1a1a" stroke-width="0.15">27</text>
<text x="90.68" y="336.5" font-size="5.7" fill="#444" text-anchor="middle">Mar</text>
<rect x="100.72" y="313.20" width="11.10" height="16.40" fill="#8bc34a" />
<text x="106.27" y="323.24" font-size="5.1" fill="#1a1a1a" text-anchor="middle" stroke="#1a1a1a" stroke-width="0.15">10</text>
<rect x="100.72" y="298.70" width="11.10" height="14.50" fill="#f44336" />
<text x="106.27" y="307.79" font-size="5.1" fill="#1a1a1a" text-anchor="middle" stroke="#1a1a1a" stroke-width="0.15">9</text>
<text x="106.27" y="336.5" font-size="5.7" fill="#444" text-anchor="middle">Apr</text>
<rect x="116.30" y="310.50" width="11.10" height="19.10" fill="#f44336" />
<text x="121.85" y="321.89" font-size="5.1" fill="#1a1a1a" text-anchor="middle" stroke="#1a1a1a" stroke-width="0.15">12</text>
<text x="121.85" y="336.5" font-size="5.7" fill="#444" text-anchor="middle">May</text>
<rect x="131.89" y="290.70" width="11.10" height="38.90" fill="#8bc34a" />
<text x="137.44" y="311.99" font-size="5.1" fill="#1a1a1a" text-anchor="middle" stroke="#1a1a1a" stroke-width="0.15">24</text>
<rect x="131.89" y="272.00" width="11.10" height="18.70" fill="#ffc107" />
<text x="137.44" y="283.19" font-size="5.1" fill="#1a1a1a" text-anchor="middle" stroke="#1a1a1a" stroke-width="0.15">11</text>
<text x="137.44" y="336.5" font-size="5.7" fill="#444" text-anchor="middle">Jun</text>
<rect x="147.47" y="308.80" width="11.10" height="20.80" fill="#8bc34a" />
<text x="153.02" y="321.04" font-size="5.1" fill="#1a1a1a" text-anchor="middle" stroke="#1a1a1a" stroke-width="0.15">13</text>
<rect x="147.47" y="274.00" width="11.10" height="34.80" fill="#ffc107" />
<text x="153.02" y="293.24" font-size="5.1" fill="#1a1a1a" text-anchor="middle" stroke="#1a1a1a" stroke-width="0.15">21</text>
<rect x="147.47" y="236.00" width="11.10" height="38.00" fill="#f44336" />
<text x="153.02" y="256.84" font-size="5.1" fill="#1a1a1a" text-anchor="middle" stroke="#1a1a1a" stroke-width="0.15">23</text>
<text x="153.02" y="336.5" font-size="5.7" fill="#444" text-anchor="middle">Jul</text>
<rect x="163.06" y="274.00" width="11.10" height="55.60" fill="#ffc107" />
<text x="168.61" y="303.64" font-size="5.1" fill="#1a1a1a" text-anchor="middle" stroke="#1a1a1a" stroke-width="0.15">34</text>
<rect x="163.06" y="249.00" width="11.10" height="25.00" fill="#f44336" />
<text x="168.61" y="263.34" font-size="5.1" fill="#1a1a1a" text-anchor="middle" stroke="#1a1a1a" stroke-width="0.15">15</text>
<text x="168.61" y="336.5" font-size="5.7" fill="#444" text-anchor="middle">Aug</text>
<rect x="178.64" y="281.80" width="11.10" height="47.80" fill="#8bc34a" />
<text x="184.19" y="307.54" font-size="5.1" fill="#1a1a1a" text-anchor="middle" stroke="#1a1a1a" stroke-width="0.15">29</text>
<rect x="178.64" y="237.20" width="11.10" height="44.60" fill="#f44336" />
<text x="184.19" y="261.34" font-size="5.1" fill="#1a1a1a" text-anchor="middle" stroke="#1a1a1a" stroke-width="0.15">27</text>
<text x="184.19" y="336.5" font-size="5.7" fill="#444" text-anchor="middle">Sep</text>
<rect x="194.23" y="272.00" width="11.10" height="57.60" fill="#8bc34a" />
<text x="199.78" y="302.64" font-size="5.1" fill="#1a1a1a" text-anchor="middle" stroke="#1a1a1a" stroke-width="0.15">35</text>
<text x="199.78" y="336.5" font-size="5.7" fill="#444" text-anchor="middle">Oct</text>
<rect x="209.81" y="302.20" width="11.10" height="27.40" fill="#ffc107" />
<text x="215.36" y="317.74" font-size="5.1" fill="#1a1a1a" text-anchor="middle" stroke="#1a1a1a" stroke-width="0.15">17</text>
<text x="215.36" y="336.5" font-size="5.7" fill="#444" text-anchor="middle">Nov</text>
<rect x="225.40" y="298.50" width="11.10" height="31.10" fill="#8bc34a" />
<text x="230.95" y="315.89" font-size="5.1" fill="#1a1a1a" text-anchor="middle" stroke="#1a1a1a" stroke-width="0.15">19</text>
<rect x="225.40" y="253.90" width="11.10" height="44.60" fill="#ffc107" />
<text x="230.95" y="278.04" font-size="5.1" fill="#1a1a1a" text-anchor="middle" stroke="#1a1a1a" stroke-width="0.15">27</text>
<text x="230.95" y="256.30" font-size="5.1" fill="#222" text-anchor="middle">0</text>
<text x="230.95" y="336.5" font-size="5.7" fill="#444" text-anchor="middle">Dec</text>
<text x="52" y="371.4" font-size="9.9" fill="#222" textLength="85" lengthAdjust="spacingAndGlyphs" stroke="#222" stroke-width="0.42">Top 5 Residual Risks</text>
<path d="M67.20 379.30V469.40M67.20 379.30H204.10" stroke="#e9e9e9" stroke-width="0.8" fill="none"/>
<path d="M94.58 379.30V469.40M67.20 397.32H204.10" stroke="#e9e9e9" stroke-width="0.8" fill="none"/>
<path d="M121.96 379.30V469.40M67.20 415.34H204.10" stroke="#e9e9e9" stroke-width="0.8" fill="none"/>
<path d="M149.34 379.30V469.40M67.20 433.36H204.10" stroke="#e9e9e9" stroke-width="0.8" fill="none"/>
<path d="M176.72 379.30V469.40M67.20 451.38H204.10" stroke="#e9e9e9" stroke-width="0.8" fill="none"/>
<path d="M204.10 379.30V469.40M67.20 469.40H204.10" stroke="#e9e9e9" stroke-width="0.8" fill="none"/>
<text x="52.50" y="385.16" font-size="5.7" fill="#333" textLength="13.7" lengthAdjust="spacingAndGlyphs" stroke="#333" stroke-width="0.1">350K</text>
<text x="52.50" y="399.37" font-size="5.7" fill="#333" textLength="13.7" lengthAdjust="spacingAndGlyphs" stroke="#333" stroke-width="0.1">300K</text>
<text x="52.50" y="417.39" font-size="5.7" fill="#333" textLength="13.7" lengthAdjust="spacingAndGlyphs" stroke="#333" stroke-width="0.1">250K</text>
<text x="52.50" y="435.41" font-size="5.7" fill="#333" textLength="13.7" lengthAdjust="spacingAndGlyphs" stroke="#333" stroke-width="0.1">200K</text>
<text x="52.50" y="453.43" font-size="5.7" fill="#333" textLength="13.7" lengthAdjust="spacingAndGlyphs" stroke="#333" stroke-width="0.1">150K</text>
<text x="52.50" y="467.45" font-size="5.7" fill="#333" textLength="13.7" lengthAdjust="spacingAndGlyphs" stroke="#333" stroke-width="0.1">100K</text>
<text x="60.35" y="477.00" font-size="5.7" fill="#333" textLength="13.7" lengthAdjust="spacingAndGlyphs" stroke="#333" stroke-width="0.1">100K</text>
<text x="87.73" y="477.00" font-size="5.7" fill="#333" textLength="13.7" lengthAdjust="spacingAndGlyphs" stroke="#333" stroke-width="0.1">150K</text>
<text x="115.11" y="477.00" font-size="5.7" fill="#333" textLength="13.7" lengthAdjust="spacingAndGlyphs" stroke="#333" stroke-width="0.1">200K</text>
<text x="142.49" y="477.00" font-size="5.7" fill="#333" textLength="13.7" lengthAdjust="spacingAndGlyphs" stroke="#333" stroke-width="0.1">250K</text>
<text x="169.87" y="477.00" font-size="5.7" fill="#333" textLength="13.7" lengthAdjust="spacingAndGlyphs" stroke="#333" stroke-width="0.1">300K</text>
<text x="191.09" y="477.00" font-size="5.7" fill="#333" textLength="13.7" lengthAdjust="spacingAndGlyphs" stroke="#333" stroke-width="0.1">350K</text>
<circle cx="174.40" cy="398.20" r="9.80" fill="#2196f3"/>
<circle cx="141.50" cy="419.70" r="7.60" fill="#ff5722"/>
<circle cx="127.30" cy="428.90" r="6.30" fill="#9c27b0"/>
<circle cx="118.10" cy="435.60" r="5.10" fill="#009688"/>
<circle cx="88.10" cy="455.20" r="2.80" fill="#e91e63"/>
<rect x="207.30" y="381.25" width="6.70" height="6.70" fill="#2196f3" />
<text x="216.80" y="387.12" font-size="7" fill="#444">Risk 1</text>
<rect x="207.30" y="391.70" width="6.70" height="6.70" fill="#ff5722" />
<text x="216.80" y="397.57" font-size="7" fill="#444">Risk 2</text>
<rect x="207.30" y="402.15" width="6.70" height="6.70" fill="#e91e63" />
<text x="216.80" y="408.02" font-size="7" fill="#444">Risk 3</text>
<rect x="207.30" y="412.60" width="6.70" height="6.70" fill="#009688" />
<text x="216.80" y="418.47" font-size="7" fill="#444">Risk 4</text>
<rect x="207.30" y="423.05" width="6.70" height="6.70" fill="#9c27b0" />
<text x="216.80" y="428.92" font-size="7" fill="#444">Risk 5</text>
</g>
</svg></body></html>
